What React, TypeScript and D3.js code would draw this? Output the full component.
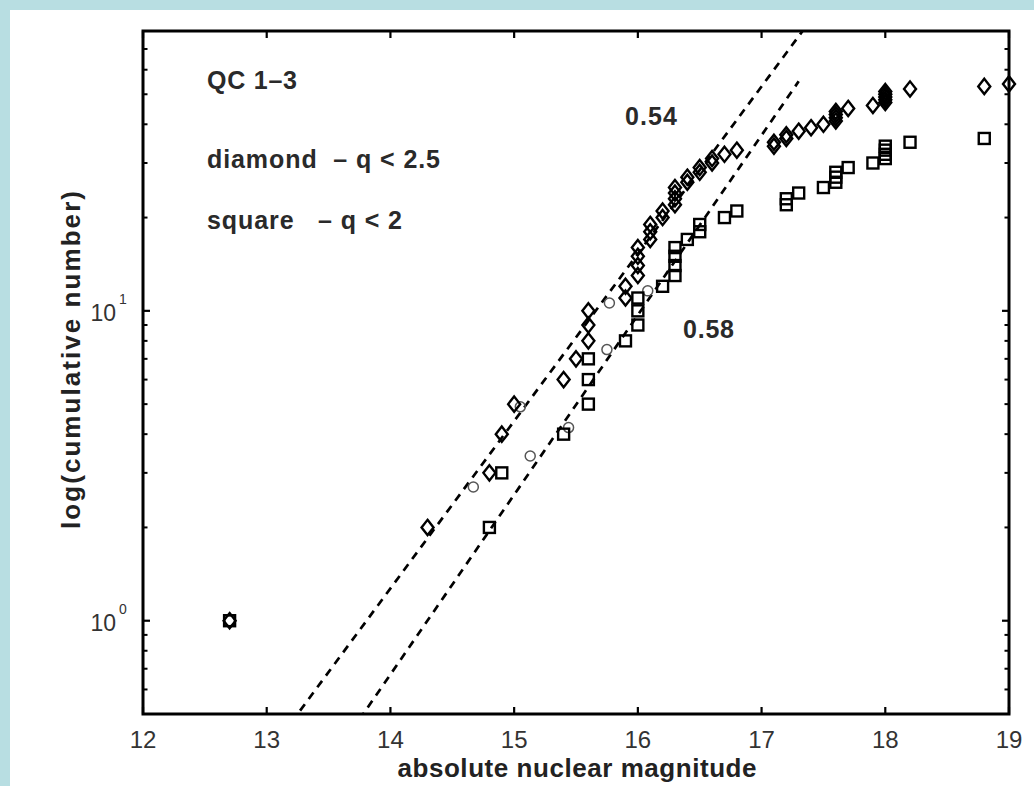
import React from 'react';
import * as d3 from 'd3';

const W = 1034;
const H = 786;
const PLOT = { left: 143, right: 1009, top: 31, bottom: 714 };

// axis ticks
const xTicks = [12, 13, 14, 15, 16, 17, 18, 19];
const yMajorTicks = [1, 10];
const yMajorExp = ['0', '1'];
const yMinorTicks = [0.6, 0.7, 0.8, 0.9, 2, 3, 4, 5, 6, 7, 8, 9, 20, 30, 40, 50, 60, 70, 80];

// diamond series (q < 2.5)
const diamondMag = [
  12.7, 14.3, 14.8, 14.9, 15.0, 15.4, 15.5, 15.6, 15.6, 15.6,
  15.9, 15.9, 16.0, 16.0, 16.0, 16.0, 16.1, 16.1, 16.1, 16.2,
  16.2, 16.3, 16.3, 16.3, 16.3, 16.4, 16.4, 16.5, 16.5, 16.6,
  16.6, 16.7, 16.8, 17.1, 17.1, 17.2, 17.2, 17.3, 17.4, 17.5,
  17.6, 17.6, 17.6, 17.6, 17.7, 17.9, 18.0, 18.0, 18.0, 18.0,
  18.0, 18.2, 18.8, 19.0,
];
const diamondCount = [
  1, 2, 3, 4, 5, 6, 7, 8, 9, 10,
  11, 12, 13, 14, 15, 16, 17, 18, 19, 20,
  21, 22, 23, 24, 25, 26, 27, 28, 29, 30,
  31, 32, 33, 34, 35, 36, 37, 38, 39, 40,
  41, 42, 43, 44, 45, 46, 47, 48, 49, 50,
  51, 52, 53, 54,
];

// square series (q < 2)
const squareMag = [
  12.7, 14.8, 14.9, 15.4, 15.6, 15.6, 15.6, 15.9, 16.0, 16.0,
  16.0, 16.2, 16.3, 16.3, 16.3, 16.3, 16.4, 16.5, 16.5, 16.7,
  16.8, 17.2, 17.2, 17.3, 17.5, 17.6, 17.6, 17.6, 17.7, 17.9,
  18.0, 18.0, 18.0, 18.0, 18.2, 18.8,
];
const squareCount = [
  1, 2, 3, 4, 5, 6, 7, 8, 9, 10,
  11, 12, 13, 14, 15, 16, 17, 18, 19, 20,
  21, 22, 23, 24, 25, 26, 27, 28, 29, 30,
  31, 32, 33, 34, 35, 36,
];

// circle series
const circleMag = [12.7, 14.67, 15.05, 15.13, 15.44, 15.75, 15.77, 16.08];
const circleCount = [1, 2.7, 4.9, 3.4, 4.2, 7.5, 10.6, 11.6];

// fitted power laws: log10(N) = slope * (m - magAtOne)
const fitSlope = [0.54, 0.58];
const fitMagAtOne = [13.807, 14.299];
const fitFrom = [13.2, 13.75];
const fitTo = [17.4, 17.3];

const FONT = '"Liberation Sans", Arial, Helvetica, sans-serif';

export default function App() {
  const x = d3.scaleLinear().domain([12, 19]).range([PLOT.left, PLOT.right]);
  const y = d3.scaleLog().domain([0.5, 80]).range([PLOT.bottom, PLOT.top]);
  const line = d3.line<[number, number]>().x((d) => x(d[0])).y((d) => y(d[1]));

  const fits = fitSlope.map((s, i) => {
    const pts: [number, number][] = [fitFrom[i], fitTo[i]].map((m) => [m, Math.pow(10, s * (m - fitMagAtOne[i]))]);
    return line(pts) as string;
  });

  const diamondPath = 'M0,-7.6L6,0L0,7.6L-6,0Z';
  const sq = 11;
  const tickLen = 7;
  const minorLen = 4.5;

  return (
    <div style={{ position: 'fixed', left: 0, top: 0, width: W, height: H }}>
      <svg width={W} height={H} style={{ display: 'block' }}>
        <rect x={0} y={0} width={W} height={H} fill="#b8dee2" />
        <rect x={10} y={10} width={W - 10} height={H - 10} fill="#ffffff" />
        <defs>
          <clipPath id="plotClip">
            <rect x={PLOT.left} y={PLOT.top} width={PLOT.right - PLOT.left} height={PLOT.bottom - PLOT.top} />
          </clipPath>
        </defs>

        {/* fitted dashed lines */}
        <g clipPath="url(#plotClip)">
          {fits.map((d, i) => (
            <path key={i} d={d} fill="none" stroke="#000" strokeWidth={2.7} strokeDasharray="8 6.5" />
          ))}
        </g>

        {/* circles */}
        <g>
          {circleMag.map((m, i) => (
            <circle key={i} cx={x(m)} cy={y(circleCount[i])} r={5} fill="none" stroke="#555" strokeWidth={1.5} />
          ))}
        </g>
        {/* squares */}
        <g>
          {squareMag.map((m, i) => (
            <rect key={i} x={x(m) - sq / 2} y={y(squareCount[i]) - sq / 2} width={sq} height={sq} fill="none" stroke="#000" strokeWidth={2.4} />
          ))}
        </g>
        {/* diamonds */}
        <g>
          {diamondMag.map((m, i) => (
            <path key={i} d={diamondPath} transform={`translate(${x(m)},${y(diamondCount[i])})`} fill="none" stroke="#000" strokeWidth={2.4} />
          ))}
        </g>

        {/* axes box */}
        <rect x={PLOT.left} y={PLOT.top} width={PLOT.right - PLOT.left} height={PLOT.bottom - PLOT.top} fill="none" stroke="#000" strokeWidth={3} />
        {xTicks.map((t) => (
          <g key={t}>
            <line x1={x(t)} x2={x(t)} y1={PLOT.bottom} y2={PLOT.bottom - tickLen} stroke="#000" strokeWidth={2.2} />
            <line x1={x(t)} x2={x(t)} y1={PLOT.top} y2={PLOT.top + tickLen} stroke="#000" strokeWidth={2.2} />
            <text x={x(t)} y={748} textAnchor="middle" fontFamily={FONT} fontSize={24} fill="#333">{t}</text>
          </g>
        ))}
        {yMajorTicks.map((t, i) => (
          <g key={t}>
            <line x1={PLOT.left} x2={PLOT.left + tickLen} y1={y(t)} y2={y(t)} stroke="#000" strokeWidth={2.2} />
            <line x1={PLOT.right} x2={PLOT.right - tickLen} y1={y(t)} y2={y(t)} stroke="#000" strokeWidth={2.2} />
            <text x={116} y={y(t) + 10} textAnchor="end" fontFamily={FONT} fontSize={23} fill="#333">10</text>
            <text x={119} y={y(t) - 7} textAnchor="start" fontFamily={FONT} fontSize={14} fill="#333">{yMajorExp[i]}</text>
          </g>
        ))}
        {yMinorTicks.map((t) => (
          <g key={t}>
            <line x1={PLOT.left} x2={PLOT.left + minorLen} y1={y(t)} y2={y(t)} stroke="#000" strokeWidth={2} />
            <line x1={PLOT.right} x2={PLOT.right - minorLen} y1={y(t)} y2={y(t)} stroke="#000" strokeWidth={2} />
          </g>
        ))}

        {/* axis labels */}
        <text x={577} y={777} textAnchor="middle" fontFamily={FONT} fontSize={26} fontWeight="bold" fill="#222" textLength={359} lengthAdjust="spacing">absolute nuclear magnitude</text>
        <text transform="translate(80,360) rotate(-90)" textAnchor="middle" fontFamily={FONT} fontSize={26} fontWeight="bold" fill="#222" textLength={338} lengthAdjust="spacing">log(cumulative number)</text>

        {/* annotations */}
        <text x={207} y={89} fontFamily={FONT} fontSize={25} fontWeight="bold" fill="#2a2a2a" textLength={90} lengthAdjust="spacing">QC 1–3</text>
        <text x={207} y={168} fontFamily={FONT} fontSize={25} fontWeight="bold" fill="#2a2a2a" textLength={233} lengthAdjust="spacing" style={{ whiteSpace: 'pre' }}>diamond  – q &lt; 2.5</text>
        <text x={207} y={229} fontFamily={FONT} fontSize={25} fontWeight="bold" fill="#2a2a2a" textLength={195} lengthAdjust="spacing" style={{ whiteSpace: 'pre' }}>square   – q &lt; 2</text>
        <text x={625} y={125} fontFamily={FONT} fontSize={25} fontWeight="bold" fill="#2a2a2a" textLength={52} lengthAdjust="spacing">0.54</text>
        <text x={683} y={338} fontFamily={FONT} fontSize={25} fontWeight="bold" fill="#2a2a2a" textLength={51} lengthAdjust="spacing">0.58</text>
      </svg>
    </div>
  );
}
